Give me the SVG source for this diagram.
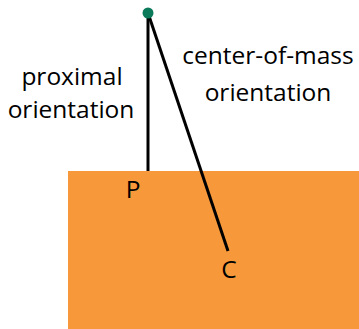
<svg xmlns="http://www.w3.org/2000/svg" width="359" height="329" viewBox="0 0 359 329">
<style>
text{font-family:"Open Sans","DejaVu Sans",sans-serif;font-size:24.5px;fill:#000;text-anchor:middle}
.ln{stroke:#000;stroke-width:3;fill:none}
</style>
<rect x="68" y="171" width="291" height="158" fill="#F7993A"/>
<g id="connectors">
<line class="ln" x1="148" y1="13" x2="148" y2="171"/>
<line class="ln" x1="148" y1="13" x2="228" y2="251"/>
</g>
<g id="pivot"><circle cx="148" cy="13" r="5.5" fill="#0A7A5A"/></g>
<g id="label-proximal"><text x="72" y="85">proximal</text><text x="71" y="118">orientation</text></g>
<g id="label-com"><text x="268" y="64">center-of-mass</text><text x="268" y="101">orientation</text></g>
<g id="P"><text x="133" y="198">P</text></g>
<g id="C"><text x="229" y="278">C</text></g>
</svg>
